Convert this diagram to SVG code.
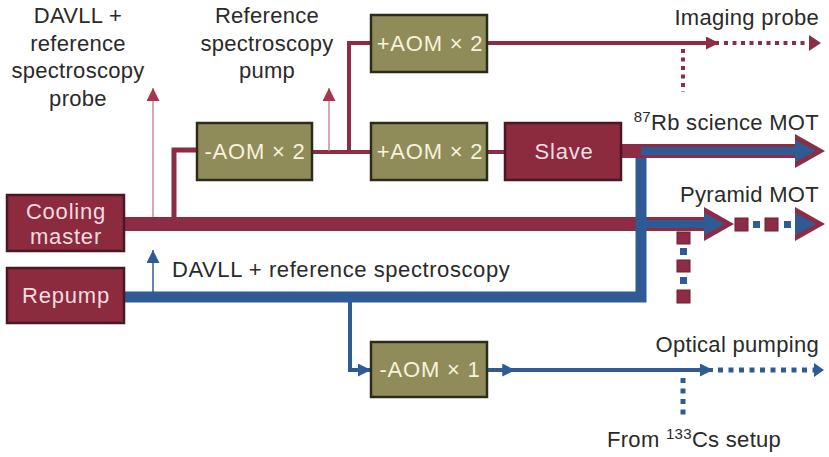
<svg xmlns="http://www.w3.org/2000/svg" width="829" height="457" viewBox="0 0 829 457">
<defs>
<style>
.lbl{font-family:"Liberation Sans",Arial,sans-serif;font-size:22px;letter-spacing:0.3px;fill:#2a2a2a;}
.bt{font-family:"Liberation Sans",Arial,sans-serif;font-size:22px;letter-spacing:0.8px;}
.red{fill:#8c2a3e;stroke:#4a1722;stroke-width:2.5;}
.olive{fill:#8f8c5a;stroke:#2c2c1c;stroke-width:2.5;}
.rt{fill:#f6dbe0;}
.ot{fill:#f6f2dc;}
.rl{stroke:#8c2d45;fill:none;}
.bl{stroke:#2f5b94;fill:none;}
.pk{stroke:#c98a98;fill:none;stroke-width:1.5;}
</style>
<marker id="arR" viewBox="0 0 12 12" markerWidth="13" markerHeight="13" refX="12" refY="6" markerUnits="userSpaceOnUse" orient="auto"><path d="M0,0 L12,6 L0,12 z" fill="#8c2d45"/></marker>
<marker id="arB" viewBox="0 0 12 12" markerWidth="13" markerHeight="13" refX="12" refY="6" markerUnits="userSpaceOnUse" orient="auto"><path d="M0,0 L12,6 L0,12 z" fill="#2f5b94"/></marker>
<marker id="arBm" viewBox="0 0 12 12" markerWidth="13" markerHeight="13" refX="9" refY="6" markerUnits="userSpaceOnUse" orient="auto"><path d="M0,0 L12,6 L0,12 z" fill="#2f5b94"/></marker>
<marker id="arP" viewBox="0 0 12 12" markerWidth="15" markerHeight="13" refX="12" refY="6" markerUnits="userSpaceOnUse" orient="auto"><path d="M0,0 L12,6 L0,12 z" fill="#a8354f"/></marker>
<marker id="arPB" viewBox="0 0 12 12" markerWidth="15" markerHeight="13" refX="12" refY="6" markerUnits="userSpaceOnUse" orient="auto"><path d="M0,0 L12,6 L0,12 z" fill="#2f5b94"/></marker>
<g id="bigArrow"><path d="M0,-17 L30,0 L0,17 z" fill="#8c2d45"/><path d="M0,-11 L21,0 L0,11 z" fill="#2f5b94"/></g>
</defs>

<g id="connectors">
<line class="rl" x1="124" y1="224" x2="708" y2="224" stroke-width="14"/>
<path class="bl" d="M124,297 H641 V150" stroke-width="11"/>
<line class="bl" x1="641" y1="224" x2="708" y2="224" stroke-width="8"/>
<path class="rl" d="M174,224 V150 H197" stroke-width="5"/>
<line class="pk" x1="153" y1="217" x2="153" y2="88" marker-end="url(#arP)"/>
<line class="rl" x1="312" y1="152" x2="371" y2="152" stroke-width="4"/>
<path class="rl" d="M349,152 V43 H371" stroke-width="4"/>
<line class="pk" x1="329" y1="151" x2="329" y2="88" marker-end="url(#arP)"/>
<line class="rl" x1="487" y1="43" x2="719" y2="43" stroke-width="4" marker-end="url(#arR)"/>
<line class="rl" x1="724" y1="43" x2="810" y2="43" stroke-width="4" stroke-dasharray="4 4.5"/>
<path d="M809,35 L821,43 L809,51 z" fill="#8c2d45"/>
<line class="rl" x1="683" y1="49" x2="683" y2="92" stroke-width="4" stroke-dasharray="4 4.5"/>
<line class="rl" x1="487" y1="152" x2="505" y2="152" stroke-width="4"/>
<line class="rl" x1="621" y1="151" x2="797" y2="151" stroke-width="14"/>
<line class="bl" x1="641" y1="151" x2="797" y2="151" stroke-width="8"/>
<use href="#bigArrow" x="795" y="151"/>
<use href="#bigArrow" x="704" y="224"/>
<g fill="#8c2d45" stroke="#6b1e30" stroke-width="1">
<rect x="735" y="218" width="13" height="13"/>
<rect x="765" y="218" width="13" height="13"/>
<rect x="677" y="232" width="13" height="12"/>
<rect x="677" y="260" width="13" height="12"/>
<rect x="677" y="290" width="13" height="13"/>
</g>
<g fill="#2f5b94">
<rect x="753" y="221" width="7" height="7"/>
<rect x="784" y="221" width="7" height="7"/>
<rect x="680" y="248" width="7" height="7"/>
<rect x="680" y="277" width="7" height="7"/>
</g>
<use href="#bigArrow" x="795" y="224"/>
<line class="bl" x1="153" y1="292" x2="153" y2="250" stroke-width="1.5" marker-end="url(#arPB)"/>
<path class="bl" d="M350,297 V370 H371" stroke-width="4" marker-end="url(#arB)"/>
<path class="bl" d="M487,370 L512,370 L713,370" stroke-width="4" marker-mid="url(#arBm)" marker-end="url(#arB)"/>
<line class="bl" x1="718" y1="370" x2="814" y2="370" stroke-width="5" stroke-dasharray="5 5.5"/>
<path d="M814,363 L824,370 L814,377 z" fill="#2f5b94"/>
<line class="bl" x1="683" y1="378" x2="683" y2="418" stroke-width="5" stroke-dasharray="5 5.5"/>
</g>

<g id="cooling">
<rect class="red" x="7" y="195" width="117" height="56"/>
<text class="bt rt" x="66" y="219" text-anchor="middle">Cooling</text>
<text class="bt rt" x="66" y="244" text-anchor="middle">master</text>
</g>
<g id="repump">
<rect class="red" x="7" y="268" width="117" height="55"/>
<text class="bt rt" x="66" y="303" text-anchor="middle">Repump</text>
</g>
<g id="aom1">
<rect class="olive" x="197" y="123" width="115" height="57"/>
<text class="bt ot" x="255" y="159" text-anchor="middle">-AOM × 2</text>
</g>
<g id="aom2">
<rect class="olive" x="371" y="15" width="116" height="57"/>
<text class="bt ot" x="430" y="51" text-anchor="middle">+AOM × 2</text>
</g>
<g id="aom3">
<rect class="olive" x="371" y="123" width="116" height="57"/>
<text class="bt ot" x="430" y="159" text-anchor="middle">+AOM × 2</text>
</g>
<g id="slave">
<rect class="red" x="505" y="123" width="116" height="57"/>
<text class="bt rt" x="564" y="159" text-anchor="middle">Slave</text>
</g>
<g id="aom4">
<rect class="olive" x="371" y="342" width="116" height="55"/>
<text class="bt ot" x="430" y="377" text-anchor="middle">-AOM × 1</text>
</g>

<g id="labels">
<text class="lbl" x="78" y="23" text-anchor="middle">DAVLL +</text>
<text class="lbl" x="78" y="51" text-anchor="middle">reference</text>
<text class="lbl" x="78" y="78" text-anchor="middle">spectroscopy</text>
<text class="lbl" x="78" y="106" text-anchor="middle">probe</text>
<text class="lbl" x="267" y="23" text-anchor="middle">Reference</text>
<text class="lbl" x="267" y="51" text-anchor="middle">spectroscopy</text>
<text class="lbl" x="267" y="78" text-anchor="middle">pump</text>
<text class="lbl" x="819" y="25" text-anchor="end">Imaging probe</text>
<text class="lbl" x="819" y="130" text-anchor="end"><tspan font-size="15" dy="-8">87</tspan><tspan dy="8">Rb science MOT</tspan></text>
<text class="lbl" x="819" y="202" text-anchor="end">Pyramid MOT</text>
<text class="lbl" x="172" y="277" textLength="338">DAVLL + reference spectroscopy</text>
<text class="lbl" x="819" y="352" text-anchor="end">Optical pumping</text>
<text class="lbl" x="607" y="447">From <tspan font-size="15" dy="-8">133</tspan><tspan dy="8">Cs setup</tspan></text>
</g>
</svg>
